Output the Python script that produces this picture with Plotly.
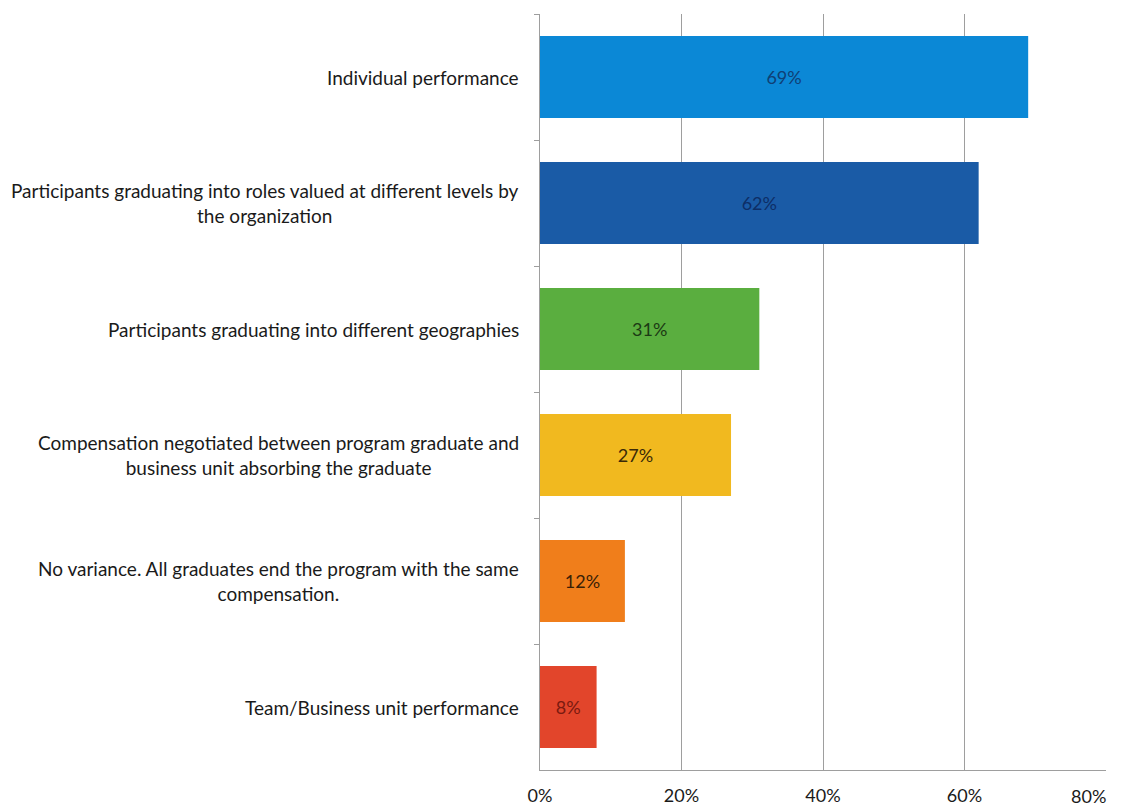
import plotly.graph_objects as go

categories = [
    "Individual performance",
    "Participants graduating into roles valued at different levels by<br>the organization",
    "Participants graduating into different geographies",
    "Compensation negotiated between program graduate and<br>business unit absorbing the graduate",
    "No variance. All graduates end the program with the same<br>compensation.",
    "Team/Business unit performance",
]
values = [69, 62, 31, 27, 12, 8]
colors = ["#0B88D6", "#1A5BA6", "#5AAE3F", "#F1B91F", "#F07E1B", "#E2452B"]
label_colors = ["#0F3F75", "#0D2E66", "#1C3A14", "#3A2A08", "#3A1F06", "#7A1A10"]
x_ticks = [0, 20, 40, 60, 80]

font_family = "Lato, 'Open Sans', sans-serif"

fig = go.Figure(
    go.Bar(
        x=values,
        y=categories,
        orientation="h",
        marker=dict(color=colors, line=dict(width=0)),
        text=[f"{v}%" for v in values],
        textposition="inside",
        insidetextanchor="middle",
        textfont=dict(size=18, color=label_colors, family=font_family),
        cliponaxis=False,
    )
)

annotations = []
for c in categories:
    annotations.append(
        dict(
            x=0, xref="paper", y=c, yref="y",
            text=c, showarrow=False,
            xanchor="right", yanchor="middle", align="center",
            xshift=-19,
            font=dict(size=19, color="#1a1a1a", family=font_family),
        )
    )

# the last tick label sits flush against the right edge, so draw it as an annotation
last_tick = x_ticks[-1]
annotations.append(
    dict(
        x=last_tick, xref="x", y=0, yref="paper",
        text=f"{last_tick}%", showarrow=False,
        xanchor="right", yanchor="top", yshift=-13, xshift=2,
        font=dict(size=18, color="#1a1a1a", family=font_family),
    )
)

# page body has an 8px default margin; compensate so plot lands where the reference has it
fig.update_layout(
    width=1116, height=801,
    margin=dict(l=532, r=18, t=6, b=39),
    paper_bgcolor="white", plot_bgcolor="white",
    bargap=0.35,
    showlegend=False,
    annotations=annotations,
    font=dict(family=font_family, size=19, color="#1a1a1a"),
)
fig.update_xaxes(
    range=[0, 80], tickvals=x_ticks,
    ticktext=[f"{t}%" if t != last_tick else "" for t in x_ticks],
    showgrid=True, gridcolor="#9E9E9E", gridwidth=1,
    showline=True, linecolor="#9E9E9E", linewidth=1,
    zeroline=False, ticks="outside", ticklen=9, tickcolor="rgba(0,0,0,0)",
    tickfont=dict(size=18, color="#1a1a1a"),
    automargin=False,
)
fig.update_yaxes(
    autorange="reversed", showticklabels=False,
    showline=True, linecolor="#9E9E9E", linewidth=1,
    ticks="outside", tickson="boundaries", ticklen=5, tickcolor="#9E9E9E",
    showgrid=False, automargin=False,
)

fig.write_html("out.html")
